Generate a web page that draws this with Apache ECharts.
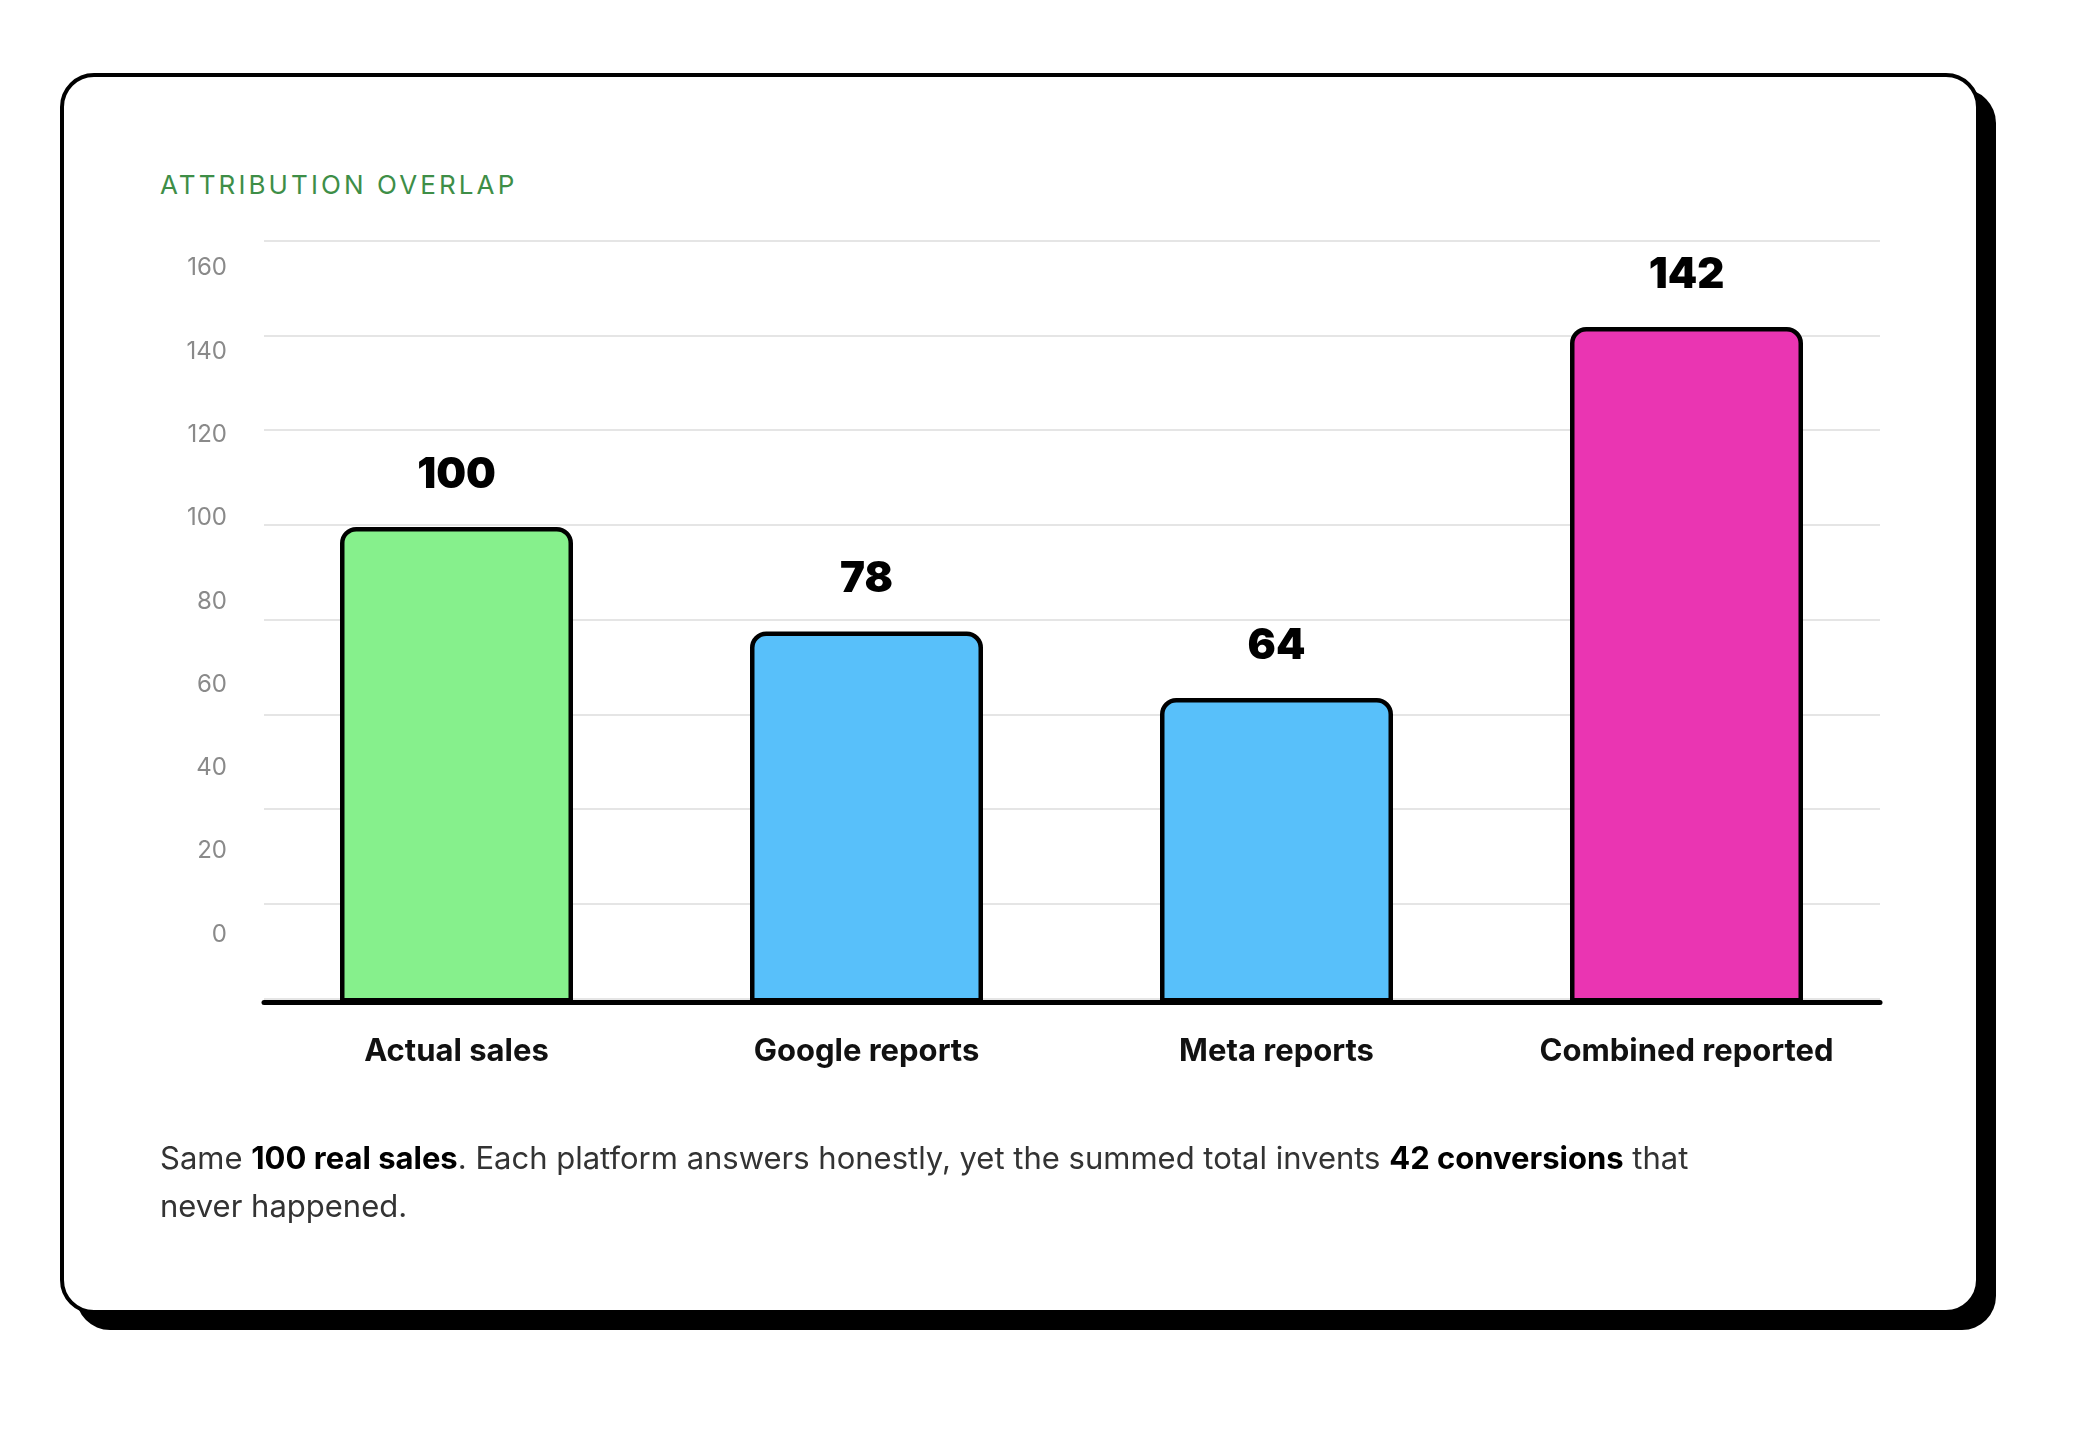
<!DOCTYPE html>
<html>
<head>
<meta charset="utf-8">
<title>Attribution overlap</title>
<script src="https://cdn.jsdelivr.net/npm/echarts@6/dist/echarts.min.js"></script>
<style>
  html, body { margin: 0; padding: 0; background: #fff; }
  body { width: 2074px; height: 1429px; position: relative; overflow: hidden; font-family: Inter, "Noto Sans", sans-serif; }
  .card {
    position: absolute; left: 60px; top: 73px; width: 1920px; height: 1241px;
    box-sizing: border-box; border: 4px solid #000; border-radius: 34px;
    background: #fff; box-shadow: 16px 16px 0 #000;
  }
  .title {
    position: absolute; left: 160px; top: 172px; margin: 0;
    font-size: 26px; line-height: 26px; letter-spacing: 3.1px;
    color: #3e8e47; font-weight: 400;
  }
  .note {
    position: absolute; left: 160px; top: 1134px; margin: 0;
    font-size: 31px; line-height: 48px; color: #333; white-space: nowrap;
  }
  .note b { color: #000; font-weight: 700; }
  #chart { position: absolute; left: 0; top: 0; width: 2074px; height: 1429px; }
</style>
</head>
<body>
<div class="card"></div>
<div class="title">ATTRIBUTION OVERLAP</div>
<div id="chart"></div>
<p class="note">Same <b>100 real sales</b>. Each platform answers honestly, yet the summed total invents <b>42 conversions</b> that<br>never happened.</p>
<script>
// data
var categories = ['Actual sales', 'Google reports', 'Meta reports', 'Combined reported'];
var values = [100, 78, 64, 142];
var barColors = ['#86f08c', '#58c0fa', '#58c0fa', '#ea35b2'];
var yMin = 0;
var yMax = 160;
var yStep = 20;

var FONT = 'Inter, "Noto Sans", sans-serif';

var chart = echarts.init(document.getElementById('chart'), null, { renderer: 'canvas' });

// grids: 0 = gridlines, 1 = bars, 2 = tick label column (sits offset from the gridlines), 3 = black baseline
chart.setOption({
  backgroundColor: 'transparent',
  animation: false,
  grid: [
    { left: 264, top: 240.7, width: 1616, height: 757.8 },
    { left: 251.5, top: 241.5, width: 1640, height: 761 },
    { left: 264, top: 268, width: 1616, height: 666.6 },
    { left: 264, top: 241.5, width: 1616, height: 761 }
  ],
  xAxis: [
    {
      gridIndex: 0, type: 'category', data: categories, show: false
    },
    {
      gridIndex: 1, type: 'category', data: categories,
      axisLine: { show: false }, axisTick: { show: false },
      axisLabel: { margin: 34, fontFamily: FONT, fontSize: 31, fontWeight: 700, color: '#111' }
    },
    {
      gridIndex: 2, type: 'category', data: categories, show: false
    },
    {
      gridIndex: 3, type: 'category', data: categories, z: 10,
      axisLine: { show: true, lineStyle: { color: '#000', width: 5 } },
      axisTick: { show: false }, axisLabel: { show: false }, splitLine: { show: false }
    }
  ],
  yAxis: [
    {
      gridIndex: 0, type: 'value', min: yMin, max: yMax, interval: yStep,
      axisLine: { show: false }, axisTick: { show: false }, axisLabel: { show: false },
      splitLine: { show: true, lineStyle: { color: '#dcdcdc', width: 1.5 } }
    },
    {
      gridIndex: 1, type: 'value', min: yMin, max: yMax, interval: yStep, show: false,
      splitLine: { show: false }
    },
    {
      gridIndex: 2, type: 'value', min: yMin, max: yMax, interval: yStep,
      axisLine: { show: false }, axisTick: { show: false }, splitLine: { show: false },
      axisLabel: { margin: 37, fontFamily: FONT, fontSize: 24, color: '#8a8a8a' }
    },
    {
      gridIndex: 3, type: 'value', min: yMin, max: yMax, interval: yStep, show: false,
      splitLine: { show: false }
    }
  ],
  series: [{
    type: 'bar',
    xAxisIndex: 1,
    yAxisIndex: 1,
    barWidth: 233,
    data: values.map(function(v, i) {
      return { value: v, itemStyle: { color: barColors[i] } };
    }),
    itemStyle: { borderColor: '#000', borderWidth: 4.5, borderRadius: [14, 14, 0, 0] },
    label: {
      show: true, position: 'top', distance: 31,
      fontFamily: FONT, fontSize: 42, fontWeight: 900, color: '#000'
    }
  }]
});
</script>
</body>
</html>
